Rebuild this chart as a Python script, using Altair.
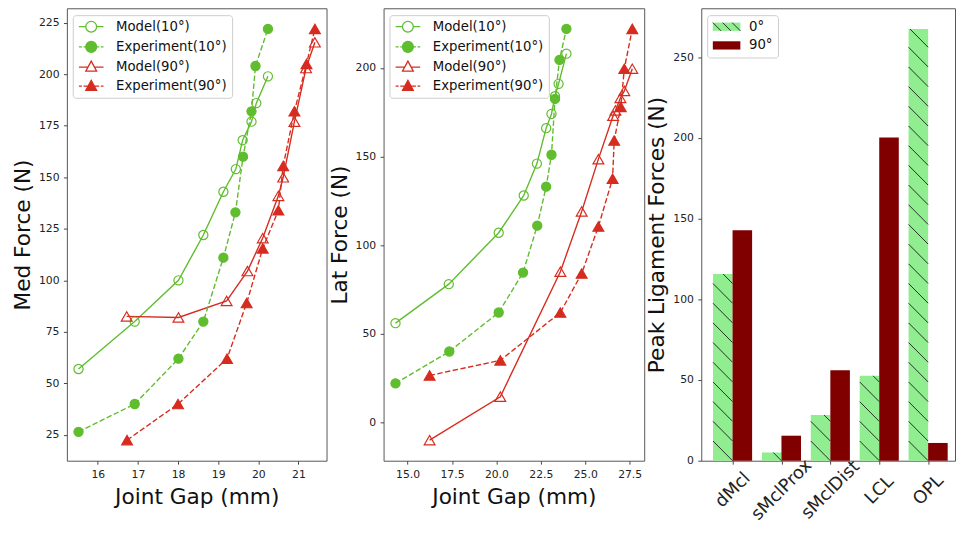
import json
import altair as alt
import pandas as pd

# ---------------- data ----------------
SERIES = ['Model(10°)', 'Experiment(10°)', 'Model(90°)', 'Experiment(90°)']
ANGLES = ['10°', '10°', '90°', '90°']

med_gap_model10 = [15.52, 16.92, 18.01, 18.63, 19.13, 19.44, 19.61, 19.83, 19.95, 20.24]
med_force_model10 = [57, 80, 100, 122, 143, 154, 168, 177, 186, 199]
med_gap_exp10 = [15.52, 16.92, 18.01, 18.63, 19.13, 19.43, 19.62, 19.83, 19.93, 20.24]
med_force_exp10 = [26.5, 40, 62, 80, 111, 133, 160, 182, 204, 222]
med_gap_model90 = [16.72, 18.01, 19.21, 19.73, 20.11, 20.5, 20.62, 20.9, 21.19, 21.41]
med_force_model90 = [82.5, 82, 90, 104.5, 120.5, 141, 150, 177, 203, 215.5]
med_gap_exp90 = [16.73, 18.0, 19.22, 19.71, 20.11, 20.5, 20.62, 20.9, 21.2, 21.41]
med_force_exp90 = [22.5, 40, 62, 89, 115.5, 134, 155.5, 182, 205, 222]

lat_gap_model10 = [14.32, 17.32, 20.13, 21.54, 22.28, 22.8, 23.1, 23.3, 23.5, 23.94]
lat_force_model10 = [56, 78, 107, 128, 146, 166, 174, 184, 191, 208]
lat_gap_exp10 = [14.32, 17.35, 20.13, 21.5, 22.3, 22.8, 23.1, 23.3, 23.55, 23.94]
lat_force_exp10 = [22, 40, 62, 84.5, 111, 133, 151, 182.5, 204.5, 222]
lat_gap_model90 = [16.24, 20.22, 23.6, 24.8, 25.74, 26.57, 26.7, 26.98, 27.2, 27.65]
lat_force_model90 = [-10, 14.5, 85, 119, 148.5, 173, 176, 183, 187, 199.5]
lat_gap_exp90 = [16.24, 20.22, 23.6, 24.8, 25.74, 26.54, 26.63, 27.0, 27.2, 27.65]
lat_force_exp90 = [26.5, 35, 62, 84, 110.5, 137.5, 159, 178, 199.5, 222]

ligaments = ['dMcl', 'sMclProx', 'sMclDist', 'LCL', 'OPL']
peak_force_0 = [115.7, 5.1, 28.3, 52.6, 267.5]
peak_force_90 = [142.8, 15.5, 56, 200.3, 11]
GROUPS = ['0°', '90°']

# ---------------- styles ----------------
GREEN = '#5fbd2e'
RED = '#d62c1f'
LIGHTGREEN = '#90ee90'
MAROON = '#800000'
FONT = 'DejaVu Sans'

# legend symbol paths (unit = 5.5 px); line from -1 to 3.545, marker centred at CX
CX = 1.27
K = 0.5523
CIRCLE = (f"M{CX+1},0C{CX+1},{K} {CX+K},1 {CX},1C{CX-K},1 {CX-1},{K} {CX-1},0"
          f"C{CX-1},{-K} {CX-K},-1 {CX},-1C{CX+K},-1 {CX+1},{-K} {CX+1},0Z")
TRIANGLE = f"M{CX},-1.1L{CX+1},0.75L{CX-1},0.75Z"
PATHS = [
    f"M-1,0H{CX-1}M{CX+1},0H3.545" + CIRCLE,
    f"M-1,0H-0.45M-0.15,0H{CX-1}M{CX+1},0H2.75M3.05,0H3.545" + CIRCLE,
    f"M-1,0H{CX-0.6}M{CX+0.6},0H3.545" + TRIANGLE,
    f"M-1,0H-0.45M-0.15,0H{CX-0.6}M{CX+0.6},0H2.75M3.05,0H3.545" + TRIANGLE,
]
# bar legend paths (unit = 6 px): 28 x 8.4 px patch
RECT_PATH = "M-1,-0.7H3.667V0.7H-1Z"
HATCH_PATH = "M-1,-0.7L0.4,0.7M0.67,-0.7L2.07,0.7M2.27,-0.7L3.667,0.7"

stroke_scale = alt.Scale(domain=SERIES, range=[GREEN, GREEN, RED, RED])
fill_scale = alt.Scale(domain=SERIES, range=['transparent', GREEN, 'transparent', RED])
shape_scale = alt.Scale(domain=SERIES, range=PATHS)
angle_scale = alt.Scale(domain=['10°', '90°'], range=[GREEN, RED])


def series_frame(parts):
    rows = []
    for name, angle, gaps, forces in parts:
        for i, (g, f) in enumerate(zip(gaps, forces)):
            rows.append({'series': name, 'angle': angle, 'gap': g, 'force': f, 'i': i})
    return pd.DataFrame(rows)


med_df = series_frame([
    (SERIES[0], ANGLES[0], med_gap_model10, med_force_model10),
    (SERIES[1], ANGLES[1], med_gap_exp10, med_force_exp10),
    (SERIES[2], ANGLES[2], med_gap_model90, med_force_model90),
    (SERIES[3], ANGLES[3], med_gap_exp90, med_force_exp90),
])
lat_df = series_frame([
    (SERIES[0], ANGLES[0], lat_gap_model10, lat_force_model10),
    (SERIES[1], ANGLES[1], lat_gap_exp10, lat_force_exp10),
    (SERIES[2], ANGLES[2], lat_gap_model90, lat_force_model90),
    (SERIES[3], ANGLES[3], lat_gap_exp90, lat_force_exp90),
])

LINE_LEGEND = alt.Legend(orient='none', legendX=6, legendY=7, title=None,
                         symbolSize=121, symbolStrokeWidth=1.3,
                         labelFont=FONT, labelFontSize=13.5, labelColor='#111',
                         labelOffset=25.5, padding=5, rowPadding=3.5,
                         fillColor='rgba(255,255,255,0.85)', strokeColor='#cccccc',
                         cornerRadius=3)


def line_panel(df, xdom, xvals, xfmt, ydom, yvals, ytitle, width):
    x = alt.X('gap:Q', scale=alt.Scale(domain=xdom, nice=False, zero=False),
              axis=alt.Axis(values=xvals, format=xfmt, title='Joint Gap (mm)'))
    y = alt.Y('force:Q', scale=alt.Scale(domain=ydom, nice=False, zero=False),
              axis=alt.Axis(values=yvals, title=ytitle))
    base = alt.Chart(df).encode(x=x, y=y)
    col = alt.Color('angle:N', scale=angle_scale, legend=None)
    solid = base.transform_filter("indexof(datum.series, 'Model') == 0").mark_line(
        strokeWidth=1.4).encode(color=col, detail='series:N', order='i:Q')
    dashed = base.transform_filter("indexof(datum.series, 'Experiment') == 0").mark_line(
        strokeWidth=1.4, strokeDash=[5.5, 2.5]).encode(color=col, detail='series:N', order='i:Q')
    pstroke = alt.Stroke('series:N', scale=stroke_scale, legend=LINE_LEGEND)
    pfill = alt.Fill('series:N', scale=fill_scale, legend=LINE_LEGEND)
    circles = base.transform_filter("datum.angle == '10°'").mark_point(
        shape='circle', size=87, filled=True, opacity=1, strokeWidth=1.2
    ).encode(stroke=pstroke, fill=pfill)
    triangles = base.transform_filter("datum.angle == '90°'").mark_point(
        shape='triangle-up', size=121, filled=True, opacity=1, strokeWidth=1.2
    ).encode(stroke=pstroke, fill=pfill)
    legend_layer = base.transform_filter('false').mark_point(
        filled=True, opacity=1, size=121
    ).encode(
        stroke=pstroke, fill=pfill,
        shape=alt.Shape('series:N', scale=shape_scale, legend=LINE_LEGEND),
    )
    return alt.layer(solid, dashed, circles, triangles, legend_layer).properties(
        width=width, height=460)


p1 = line_panel(med_df, [15.23, 21.7], [16, 17, 18, 19, 20, 21], 'd',
                [12.5, 232], [25, 50, 75, 100, 125, 150, 175, 200, 225],
                'Med Force (N)', 264)
p2 = line_panel(lat_df, [13.65, 28.32], [15, 17.5, 20, 22.5, 25, 27.5], '.1f',
                [-21.6, 233.6], [0, 50, 100, 150, 200], 'Lat Force (N)', 265)

# ---------------- bar panel ----------------
bar_rows = []
for i, lig in enumerate(ligaments):
    bar_rows.append({'lig': lig, 'idx': i, 'group': GROUPS[0], 'force': peak_force_0[i]})
    bar_rows.append({'lig': lig, 'idx': i, 'group': GROUPS[1], 'force': peak_force_90[i]})
bar_df = pd.DataFrame(bar_rows)

HALF = 0.4          # bar width in category units
HATCH_STEP = 12.2   # hatch spacing (N)
hatch_rows = []
for i, v in enumerate(peak_force_0):
    left = i - HALF
    k = 1
    while (k - 1) * HATCH_STEP < v:
        c = k * HATCH_STEP
        t0 = max(0.0, (c - v) / HATCH_STEP)
        t1 = min(1.0, c / HATCH_STEP)
        if t0 < t1:
            hatch_rows.append({'xa': left + HALF * t0, 'xb': left + HALF * t1,
                               'ya': c - HATCH_STEP * t0, 'yb': c - HATCH_STEP * t1,
                               'group': GROUPS[0]})
        k += 1
hatch_df = pd.DataFrame(hatch_rows)

x3 = alt.X('xa:Q', scale=alt.Scale(domain=[-0.64, 4.55], nice=False, zero=False),
           axis=alt.Axis(values=list(range(len(ligaments))),
                         labelExpr=json.dumps(ligaments) + '[datum.value]',
                         title=None, labelAngle=-45, labelAlign='center',
                         labelBaseline='middle', labelPadding=26, labelFontSize=18))
y3_axis = alt.Axis(values=[0, 50, 100, 150, 200, 250], title='Peak Ligament Forces (N)')
y3_scale = alt.Scale(domain=[0, 280.35], nice=False)

leg_fill = alt.Legend(orient='none', legendX=6, legendY=7, title=None,
                      symbolType=RECT_PATH, symbolSize=144, symbolStrokeWidth=0,
                      labelFont=FONT, labelFontSize=13.5, labelColor='#111',
                      labelOffset=24, padding=5, rowPadding=4,
                      fillColor='rgba(255,255,255,0.85)', strokeColor='#cccccc',
                      cornerRadius=3)
leg_hatch = alt.Legend(orient='none', legendX=6, legendY=7, title=None,
                       symbolType=HATCH_PATH, symbolSize=144, symbolStrokeWidth=0.9,
                       symbolFillColor='transparent',
                       labelFont=FONT, labelFontSize=13.5, labelColor='transparent',
                       labelOffset=24, padding=5, rowPadding=4)

bars = alt.Chart(bar_df).transform_calculate(
    xa=f"datum.group == '{GROUPS[0]}' ? datum.idx - {HALF} : datum.idx",
    xb=f"datum.group == '{GROUPS[0]}' ? datum.idx : datum.idx + {HALF}",
).mark_rect(strokeWidth=0).encode(
    x=x3, x2='xb:Q',
    y=alt.Y('force:Q', scale=y3_scale, axis=y3_axis), y2=alt.datum(0),
    fill=alt.Fill('group:N', scale=alt.Scale(domain=GROUPS, range=[LIGHTGREEN, MAROON]),
                  legend=leg_fill),
)
hatch = alt.Chart(hatch_df).mark_rule(strokeWidth=0.9).encode(
    x=x3, x2='xb:Q',
    y=alt.Y('ya:Q', scale=y3_scale, axis=y3_axis),
    y2='yb:Q',
    stroke=alt.Stroke('group:N', scale=alt.Scale(domain=[GROUPS[0]], range=['#1a1a1a']),
                      legend=leg_hatch),
)
p3 = alt.layer(bars, hatch).properties(width=258, height=460)

chart = alt.hconcat(p1, p2, p3, spacing=0).resolve_scale(
    color='independent', fill='independent', stroke='independent', shape='independent'
).resolve_legend(
    color='independent', fill='independent', stroke='independent', shape='independent'
).properties(
    padding={'left': 11, 'top': 3, 'right': 0, 'bottom': 0},
    background='white',
).configure_view(
    stroke='#555555', strokeWidth=1
).configure_axis(
    labelFont=FONT, labelFontSize=11, labelColor='#222222',
    titleFont=FONT, titleFontSize=22, titleFontWeight='normal', titleColor='#111111',
    tickColor='#444444', tickSize=3.5, tickWidth=1, labelPadding=4.5,
    domain=False, grid=False, labelFlush=False, labelOverlap=False,
).configure_axisX(titlePadding=8).configure_axisY(titlePadding=4)

chart.save('out.html', embed_options={'renderer': 'svg', 'actions': False})
